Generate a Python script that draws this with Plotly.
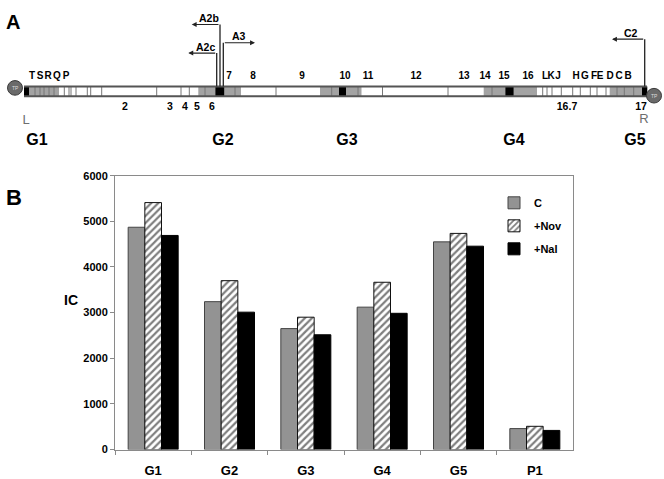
import plotly.graph_objects as go

W, H = 664, 479
MAP_H = 150
FONT = "Arial, Liberation Sans, sans-serif"

# ---------------- Panel B data ----------------
categories = ["G1", "G2", "G3", "G4", "G5", "P1"]
ic_control = [4870, 3240, 2650, 3120, 4550, 460]
ic_nov = [5410, 3700, 2900, 3665, 4735, 510]
ic_nal = [4690, 3010, 2515, 2985, 4455, 420]
y_ticks = [0, 1000, 2000, 3000, 4000, 5000, 6000]

# ---------------- Panel A map data (map units along the schematic) ----------------
black_blocks = [(24, 29), (215.3, 224.3), (339, 346), (505.3, 513.7), (642, 647.3)]
gray_blocks = [(29, 59), (198.3, 215.3), (224.3, 241), (320, 339), (346, 361.5),
               (483.7, 505.3), (513.7, 537), (609.7, 642)]
dividers = [35, 40, 44, 49, 54, 64.3, 69, 71, 76, 87.3, 90.7, 101.7, 156.7, 181, 189.3,
            205, 235, 276, 331.7, 358, 382.5, 448, 492, 542.7, 547, 552, 561.3, 572.7,
            580.3, 590.3, 597, 606, 617, 624.3, 633.7]
map_start, map_end = 24, 647
top_labels = ["T", "S", "R", "Q", "P", "7", "8", "9", "10", "11", "12", "13", "14", "15",
              "16", "L", "K", "J", "H", "G", "F", "E", "D", "C", "B"]
top_pos = [32, 40, 48, 57, 66, 229, 253, 302, 345, 368, 416, 464, 485, 504,
           528, 545, 551, 558, 576, 585, 594, 600, 610, 619, 628]
bottom_labels = ["2", "3", "4", "5", "6", "16.7", "17"]
bottom_pos = [125, 170, 185, 197, 212, 567, 641]
group_labels = ["G1", "G2", "G3", "G4", "G5"]
group_pos = [37, 223, 347, 514, 635]
promoters = ["A2b", "A2c", "A3", "C2"]
prom_x = [220, 216.7, 223.3, 644.7]
prom_top = [19, 48.3, 37.7, 34]
prom_head = [191.7, 188.3, 255, 612]

fig = go.Figure()

# ---------------- Bar chart ----------------
fig.add_trace(go.Bar(
    x=categories, y=ic_control, name="C", legendgroup="c",
    marker=dict(color="#939393", line=dict(color="#444", width=1)),
))
fig.add_trace(go.Bar(
    x=categories, y=ic_nov, name="+Nov", legendgroup="nov",
    marker=dict(color="white", line=dict(color="#111", width=1),
                pattern=dict(shape="/", fgcolor="black", bgcolor="white",
                             size=5, solidity=0.45)),
))
fig.add_trace(go.Bar(
    x=categories, y=ic_nal, name="+Nal", legendgroup="nal",
    marker=dict(color="black", line=dict(color="black", width=1)),
))

# ---------------- Map schematic (separate axes over the top strip) ----------------
BAR_TOP, BAR_BOT = 82.5, 92.5
shapes = []
for s, e in gray_blocks:
    shapes.append(dict(type="rect", xref="x2", yref="y2", x0=s, x1=e, y0=BAR_TOP, y1=BAR_BOT,
                       fillcolor="#a3a3a3", line=dict(width=0)))
for d in dividers:
    shapes.append(dict(type="line", xref="x2", yref="y2", x0=d, x1=d, y0=BAR_TOP, y1=BAR_BOT,
                       line=dict(color="#777", width=1)))
for s, e in black_blocks:
    shapes.append(dict(type="rect", xref="x2", yref="y2", x0=s, x1=e, y0=BAR_TOP, y1=BAR_BOT,
                       fillcolor="black", line=dict(width=0)))
for yy in (BAR_TOP, BAR_BOT):
    shapes.append(dict(type="line", xref="x2", yref="y2", x0=map_start, x1=map_end, y0=yy, y1=yy,
                       line=dict(color="#555", width=2)))
for cx, cy in ((15, 84), (654, 92)):
    shapes.append(dict(type="circle", xref="x2", yref="y2", x0=cx - 7.5, x1=cx + 7.5,
                       y0=cy - 7.5, y1=cy + 7.5, fillcolor="#6a6a6a",
                       line=dict(color="#3a3a3a", width=1)))
for px, pt in zip(prom_x, prom_top):
    shapes.append(dict(type="line", xref="x2", yref="y2", x0=px, x1=px, y0=BAR_TOP, y1=pt,
                       line=dict(color="#222", width=1.3)))

annotations = []
for name, px, pt, ph in zip(promoters, prom_x, prom_top, prom_head):
    annotations.append(dict(xref="x2", yref="y2", axref="x2", ayref="y2",
                            x=ph, y=pt, ax=px, ay=pt, text="", showarrow=True,
                            arrowhead=2, arrowsize=0.9, arrowwidth=1.1, arrowcolor="#222"))
    annotations.append(dict(xref="x2", yref="y2", x=(px + ph) / 2 + (3 if ph < px else 0),
                            y=pt - 6.5, text="<b>%s</b>" % name, showarrow=False,
                            font=dict(family=FONT, size=10.5, color="black")))
for cx, cy in ((15, 84), (654, 92)):
    annotations.append(dict(xref="x2", yref="y2", x=cx, y=cy, text="TP", showarrow=False,
                            font=dict(family=FONT, size=5, color="#ddd")))

fig.add_trace(go.Scatter(
    x=top_pos, y=[72] * len(top_pos), text=["<b>%s</b>" % t for t in top_labels],
    mode="text", textfont=dict(family=FONT, size=10, color="black"),
    xaxis="x2", yaxis="y2", showlegend=False, hoverinfo="skip"))
fig.add_trace(go.Scatter(
    x=bottom_pos, y=[103.5] * len(bottom_pos), text=["<b>%s</b>" % t for t in bottom_labels],
    mode="text", textfont=dict(family=FONT, size=10.5, color="black"),
    xaxis="x2", yaxis="y2", showlegend=False, hoverinfo="skip"))
fig.add_trace(go.Scatter(
    x=group_pos, y=[138] * len(group_pos), text=["<b>%s</b>" % t for t in group_labels],
    mode="text", textfont=dict(family=FONT, size=16, color="black"),
    xaxis="x2", yaxis="y2", showlegend=False, hoverinfo="skip"))
fig.add_trace(go.Scatter(
    x=[26, 644], y=[117.5, 117], text=["L", "R"],
    mode="text", textfont=dict(family=FONT, size=13, color="#6e6e6e"),
    xaxis="x2", yaxis="y2", showlegend=False, hoverinfo="skip"))

annotations += [
    dict(xref="paper", yref="paper", x=4 / W, y=1 - 16 / H, text="<b>A</b>", showarrow=False,
         xanchor="left", yanchor="middle", font=dict(family=FONT, size=20, color="black")),
    dict(xref="paper", yref="paper", x=4 / W, y=1 - 196 / H, text="<b>B</b>", showarrow=False,
         xanchor="left", yanchor="middle", font=dict(family=FONT, size=22, color="black")),
    dict(xref="paper", yref="paper", x=71 / W, y=1 - 302 / H, text="<b>IC</b>", showarrow=False,
         xanchor="center", yanchor="middle", font=dict(family=FONT, size=14, color="black")),
]

fig.update_layout(
    width=W, height=H, margin=dict(l=0, r=0, t=0, b=0, pad=0), autosize=False,
    paper_bgcolor="white", plot_bgcolor="white",
    barmode="group", bargap=0.345, bargroupgap=0,
    font=dict(family=FONT, color="black"),
    shapes=shapes, annotations=annotations,
    xaxis=dict(domain=[115 / W, 573 / W], showline=True, linecolor="#8a8a8a", linewidth=1,
               mirror=True, ticks="outside", tickson="boundaries", ticklen=4,
               tickcolor="#8a8a8a", tickfont=dict(family=FONT, size=13, weight="bold"),
               ticklabelstandoff=9, showgrid=False, fixedrange=True),
    yaxis=dict(domain=[1 - 455 / H, 1 - 174 / H], range=[0, 6000], tickvals=y_ticks,
               showline=True, linecolor="#8a8a8a", linewidth=1, mirror=True,
               ticks="outside", ticklen=4, tickcolor="#8a8a8a",
               tickfont=dict(family=FONT, size=11, weight="bold"),
               showgrid=False, zeroline=False, fixedrange=True),
    xaxis2=dict(domain=[0, 1], range=[0, W], anchor="y2", visible=False, fixedrange=True),
    yaxis2=dict(domain=[1 - MAP_H / H, 1], range=[MAP_H, 0], anchor="x2", visible=False,
                fixedrange=True),
    legend=dict(x=494 / W, y=1 - 187 / H, xanchor="left", yanchor="top",
                bgcolor="rgba(0,0,0,0)", traceorder="grouped", tracegroupgap=4,
                itemwidth=30, font=dict(family=FONT, size=11, weight="bold")),
    showlegend=True,
)

fig.write_html("out.html", config={"displayModeBar": False},
               post_script="document.body.style.margin='0px';")
